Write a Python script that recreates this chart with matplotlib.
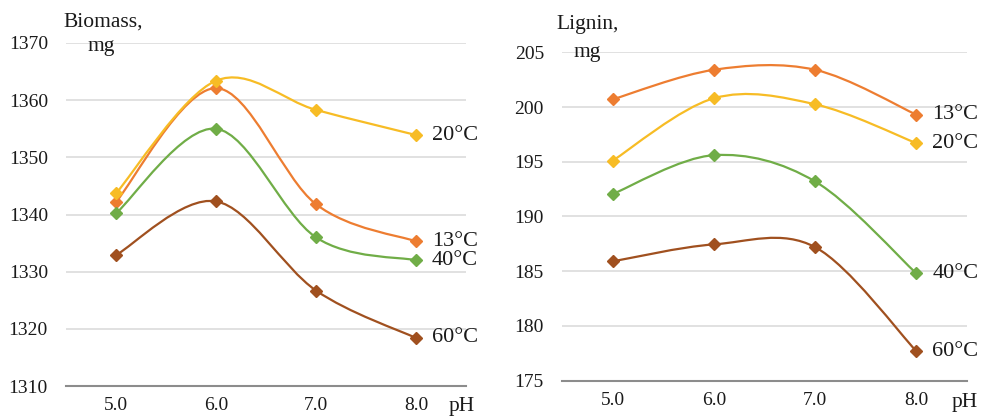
import numpy as np
import matplotlib
matplotlib.use("Agg")
import matplotlib.pyplot as plt
from matplotlib.path import Path
from matplotlib.patches import PathPatch

plt.rcParams['font.family'] = ['Liberation Serif', 'DejaVu Serif']

ph = [5.0, 6.0, 7.0, 8.0]
ph_labels = ["5.0", "6.0", "7.0", "8.0"]
temps = ["13°C", "20°C", "40°C", "60°C"]
colors = ["#ED7D31", "#F7BC25", "#70AD47", "#A0501F"]

biomass_13 = [1342.2, 1362.1, 1341.8, 1335.3]
biomass_20 = [1343.7, 1363.4, 1358.3, 1353.9]
biomass_40 = [1340.2, 1355.0, 1336.0, 1332.0]
biomass_60 = [1332.9, 1342.3, 1326.7, 1318.4]

lignin_13 = [200.7, 203.4, 203.4, 199.3]
lignin_20 = [195.1, 200.8, 200.25, 196.7]
lignin_40 = [192.05, 195.6, 193.2, 184.8]
lignin_60 = [185.9, 187.45, 187.2, 177.7]

TXT = '#1a1a1a'


def smooth_path(x, y):
    # Excel-style smoothed line: cubic bezier through the points
    pts = np.column_stack([x, y]).astype(float)
    n = len(pts)
    verts = [pts[0]]
    codes = [Path.MOVETO]
    for i in range(n - 1):
        p0 = pts[i - 1] if i > 0 else pts[i]
        p1 = pts[i]
        p2 = pts[i + 1]
        p3 = pts[i + 2] if i + 2 < n else pts[i + 1]
        c1 = p1 + (p2 - p0) / 6.0
        c2 = p2 - (p3 - p1) / 6.0
        verts += [c1, c2, p2]
        codes += [Path.CURVE4] * 3
    return Path(verts, codes)


def draw_panel(ax, series, ylim, yticks):
    for vals, col, name in zip(series, colors, temps):
        ax.add_patch(PathPatch(smooth_path(ph, vals), fill=False, edgecolor=col, lw=1.6, zorder=3))
        ax.plot(ph, vals, ls='none', marker='D', ms=6.5, color=col, zorder=4)
        ax.annotate(name, (ph[-1], vals[-1]), xytext=(11.5, 0), textcoords='offset points',
                    va='center', ha='left', fontsize=16, color=TXT, annotation_clip=False)
    ax.set_xlim(4.5, 8.5)
    ax.set_ylim(*ylim)
    ax.set_yticks(yticks)
    ax.set_xticks(ph)
    ax.set_xticklabels(ph_labels)
    ax.grid(axis='y', color='#D9D9D9', lw=1.1)
    ax.set_axisbelow(True)
    for s in ['top', 'right', 'left']:
        ax.spines[s].set_visible(False)
    ax.spines['bottom'].set_color('#8C8C8C')
    ax.spines['bottom'].set_linewidth(1.5)
    ax.tick_params(axis='both', length=0, labelsize=14, labelcolor=TXT)
    ax.tick_params(axis='y', pad=13)
    ax.tick_params(axis='x', pad=8)


fig = plt.figure(figsize=(9.81, 4.17), dpi=100)

ax1 = fig.add_axes([0.0673, 0.0743, 0.4077, 0.8226])
draw_panel(ax1, [biomass_13, biomass_20, biomass_40, biomass_60],
           (1310, 1370), np.arange(1310, 1371, 10))

ax2 = fig.add_axes([0.5729, 0.0871, 0.4128, 0.7875])
draw_panel(ax2, [lignin_13, lignin_20, lignin_40, lignin_60],
           (175, 205), np.arange(175, 206, 5))

fig.text(63 / 981, 1 - 22 / 417, "Biomass,", fontsize=15.5, va='center', ha='left', color=TXT)
fig.text(88 / 981, 1 - 46 / 417, "mg", fontsize=15.5, va='center', ha='left', color=TXT)
fig.text(449 / 981, 1 - 406 / 417, "pH", fontsize=15.5, va='center', ha='left', color=TXT)

fig.text(556 / 981, 1 - 25 / 417, "Lignin,", fontsize=15.5, va='center', ha='left', color=TXT)
fig.text(573 / 981, 1 - 52 / 417, "mg", fontsize=15.5, va='center', ha='left', color=TXT)
fig.text(952 / 981, 1 - 402 / 417, "pH", fontsize=15.5, va='center', ha='left', color=TXT)

fig.savefig("out.png", dpi=100)
